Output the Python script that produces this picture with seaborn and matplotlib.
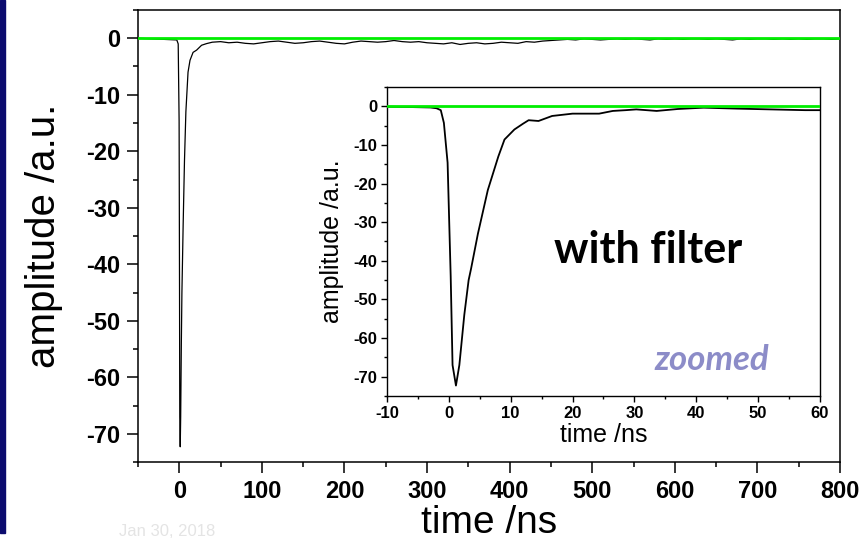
import numpy as np
import pandas as pd
import matplotlib
matplotlib.use("Agg")
import matplotlib.pyplot as plt
import seaborn as sns
from matplotlib.ticker import MultipleLocator
from matplotlib.patches import Rectangle

# ---------------- data ----------------
pulse_time = [-50, -3, -1.3, -0.2, 0.3, 0.6, 1.15, 1.7, 2.5, 3.2, 4.7, 6.3, 8.0,
              10.6, 13, 16.7, 21, 27, 33]
pulse_amp = [0, -0.3, -1.0, -14.6, -44, -67, -72.3, -67, -54, -45, -33, -21.7, -13,
             -6.0, -3.9, -2.5, -2.1, -1.24, -0.95]

tail_time = list(range(40, 801, 10))
tail_amp = [-0.7, -0.6, -0.8, -0.7, -0.9, -1.0, -0.8, -0.6, -0.5, -0.7, -0.9, -0.8,
            -0.6, -0.5, -0.7, -0.9, -1.0, -0.7, -0.5, -0.6, -0.7, -0.6, -0.4, -0.6,
            -0.7, -0.6, -0.8,
            -0.9, -1.0, -0.8, -1.1, -0.9, -0.8, -1.0, -0.9, -0.7, -0.8, -0.9, -0.6,
            -0.7, -0.5, -0.4,
            -0.3, -0.2, -0.3, -0.1, -0.2, -0.3, -0.2, -0.1, -0.2, -0.1, -0.2, -0.3,
            -0.1, -0.2, -0.1, -0.2, -0.1, -0.1, -0.2, -0.1, -0.2, -0.3, -0.1, -0.2,
            -0.1, -0.1, -0.2, -0.1, -0.2, -0.1, -0.2, -0.1, -0.1, -0.2, -0.1]

inset_time = [-10, -6, -3, -2, -1.3, -0.8, -0.2, 0.3, 0.6, 1.15, 1.7, 2.5, 3.2, 3.6,
              4.7, 6.3, 8.0, 9.0, 10.6, 12.0, 12.9, 14.5, 16.7, 20, 24.3, 26.5, 28.6,
              30.3, 33.6, 37, 41.2, 46.6, 52, 57.6, 60]
inset_amp = [-0.1, -0.2, -0.3, -0.5, -1.0, -4.3, -14.6, -44, -67, -72.3, -67, -54,
             -45, -42, -33, -21.7, -13, -8.6, -6.0, -4.5, -3.6, -3.8, -2.5, -1.9,
             -1.9, -1.2, -1.0, -0.8, -1.2, -0.7, -0.35, -0.6, -0.8, -1.0, -1.0]

ref_main_time = [-50, 800]
ref_inset_time = [-10, 60]
ref_amp = [0, 0]

main_xticks = [0, 100, 200, 300, 400, 500, 600, 700, 800]
inset_xticks = [-10, 0, 10, 20, 30, 40, 50, 60]
yticks = [-70, -60, -50, -40, -30, -20, -10, 0]

assert len(tail_time) == len(tail_amp)
assert len(pulse_time) == len(pulse_amp)
assert len(inset_time) == len(inset_amp)

main_df = pd.DataFrame({"time": pulse_time + tail_time, "amp": pulse_amp + tail_amp})
inset_df = pd.DataFrame({"time": inset_time, "amp": inset_amp})
ref_main_df = pd.DataFrame({"time": ref_main_time, "amp": ref_amp})
ref_inset_df = pd.DataFrame({"time": ref_inset_time, "amp": ref_amp})

# ---------------- style ----------------
sns.set_theme(style="white")
plt.rcParams['font.family'] = ['Liberation Sans', 'DejaVu Sans']
plt.rcParams['axes.edgecolor'] = 'black'
plt.rcParams['axes.linewidth'] = 1.1
plt.rcParams['axes.unicode_minus'] = False
plt.rcParams['text.color'] = 'black'
plt.rcParams['axes.labelcolor'] = 'black'
plt.rcParams['xtick.color'] = 'black'
plt.rcParams['ytick.color'] = 'black'
plt.rcParams['xtick.labelcolor'] = 'black'
plt.rcParams['ytick.labelcolor'] = 'black'

GREEN = "#00ee00"

fig = plt.figure(figsize=(8.64, 5.4), dpi=100)
fig.patch.set_facecolor("white")

# ---------------- main axes ----------------
ax = fig.add_axes([0.1597, 0.1444, 0.8125, 0.8371])
sns.lineplot(data=main_df, x="time", y="amp", ax=ax, color="black", linewidth=0.9,
             estimator=None, sort=False, zorder=2)
sns.lineplot(data=ref_main_df, x="time", y="amp", ax=ax, color=GREEN, linewidth=2.0,
             estimator=None, sort=False, zorder=3)
ax.set_xlim(-50, 800)
ax.set_ylim(-75, 5)
ax.set_xticks(main_xticks)
ax.set_yticks(yticks)
ax.xaxis.set_minor_locator(MultipleLocator(50))
ax.yaxis.set_minor_locator(MultipleLocator(5))
ax.tick_params(which="major", direction="out", length=8, width=1.1, color="black",
               labelcolor="black", bottom=True, left=True, top=False, right=False, pad=5)
ax.tick_params(which="minor", direction="out", length=3.5, width=1.1, color="black",
               bottom=True, left=True, top=False, right=False)
for lab in ax.get_xticklabels() + ax.get_yticklabels():
    lab.set_fontweight("bold")
    lab.set_fontsize(17)
ax.set_xlabel("time /ns", fontsize=28, color="black")
ax.xaxis.set_label_coords(0.5, -0.094)
ax.xaxis.label.set_va("top")
ax.set_ylabel("amplitude /a.u.", fontsize=29, labelpad=16, color="black")
for s in ax.spines.values():
    s.set_visible(True)
    s.set_color("black")

# ---------------- inset axes ----------------
ins = fig.add_axes([0.4479, 0.2667, 0.5011, 0.5722])
ins.set_facecolor("white")
sns.lineplot(data=inset_df, x="time", y="amp", ax=ins, color="black", linewidth=1.3,
             estimator=None, sort=False, zorder=2)
sns.lineplot(data=ref_inset_df, x="time", y="amp", ax=ins, color=GREEN, linewidth=2.0,
             estimator=None, sort=False, zorder=3)
ins.set_xlim(-10, 60)
ins.set_ylim(-75, 5)
ins.set_xticks(inset_xticks)
ins.set_yticks(yticks)
ins.xaxis.set_minor_locator(MultipleLocator(5))
ins.yaxis.set_minor_locator(MultipleLocator(5))
ins.tick_params(which="major", direction="out", length=4, width=1.0, color="black",
                labelcolor="black", bottom=True, left=True, top=False, right=False, pad=3)
ins.tick_params(which="minor", direction="out", length=2.5, width=1.0, color="black",
                bottom=True, left=True, top=False, right=False)
for lab in ins.get_xticklabels() + ins.get_yticklabels():
    lab.set_fontweight("bold")
    lab.set_fontsize(12)
ins.set_xlabel("time /ns", fontsize=18, labelpad=2, color="black")
ins.set_ylabel("amplitude /a.u.", fontsize=18, labelpad=7, color="black")
for s in ins.spines.values():
    s.set_visible(True)
    s.set_color("black")
    s.set_linewidth(1.0)

ins.text(0.603, 0.472, "with filter", transform=ins.transAxes, ha="center", va="center",
         fontsize=31, fontweight="bold", family=["Lato", "DejaVu Sans"], color="black")
ins.text(0.75, 0.115, "zoomed", transform=ins.transAxes, ha="center", va="center",
         fontsize=25, fontweight="bold", fontstyle="italic",
         family=["Lato", "DejaVu Sans"], color="#8c8cc8")

# ---------------- slide decorations ----------------
fig.patches.append(Rectangle((0, 7 / 540), 5 / 864, 1 - 7 / 540,
                             transform=fig.transFigure, color="#0b0b6e", zorder=0))
fig.text(215 / 864, 1 / 540, "Jan 30, 2018", ha="right", va="bottom",
         fontsize=12, color="#e4e4e4")

fig.savefig("out.png", dpi=100)
